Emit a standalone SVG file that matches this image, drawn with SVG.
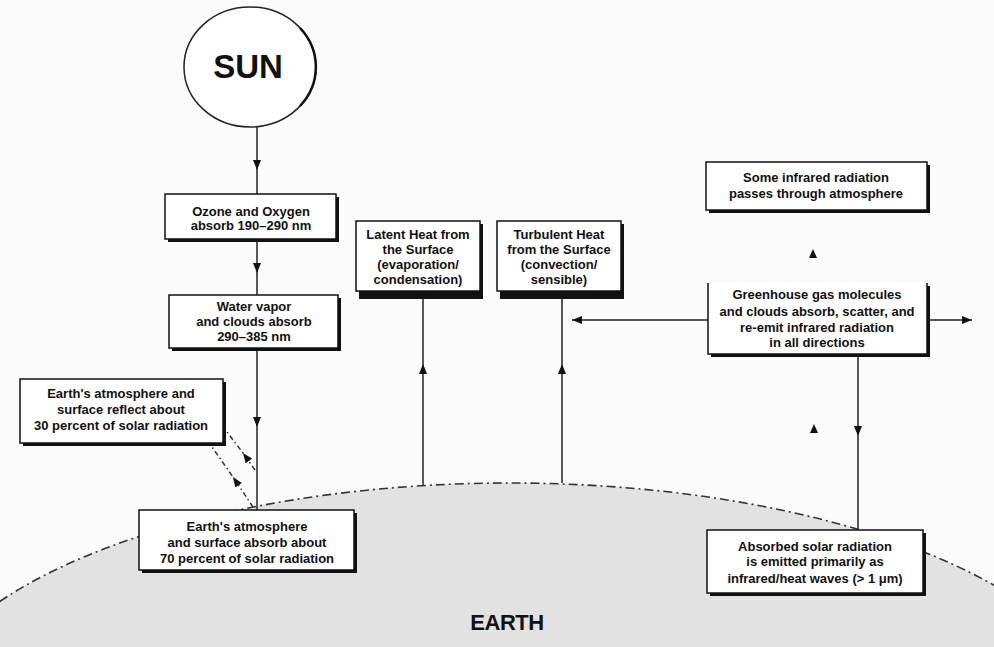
<svg xmlns="http://www.w3.org/2000/svg" width="994" height="647" viewBox="0 0 994 647">
<defs>
<style>
.box{fill:#fff;stroke:#111;stroke-width:1.5}
.shd{fill:#111}
.t{font-family:"Liberation Sans",Arial,sans-serif;font-size:13px;font-weight:bold;fill:#111;text-anchor:middle}
.ln{fill:none;stroke:#222;stroke-width:1.5}
.dl{fill:none;stroke:#333;stroke-width:1.5;stroke-dasharray:5 3 1.5 3}
</style>
<marker id="ah" viewBox="0 0 10 8" refX="10" refY="4" markerWidth="10" markerHeight="8" markerUnits="userSpaceOnUse" orient="auto">
<path d="M0,0 L10,4 L0,8 Z" fill="#111"/>
</marker>
<path id="tri" d="M0,0 L4,9 L-4,9 Z" fill="#111"/>
</defs>
<rect width="994" height="647" fill="#fbfbfb"/>

<g id="earth">
<ellipse cx="510" cy="733" rx="600" ry="250" fill="#e2e2e2" stroke="#333" stroke-width="1.6" stroke-dasharray="9 4 2 4"/>
<text x="507" y="630" style="font-family:'Liberation Sans',Arial,sans-serif;font-size:22px;font-weight:bold;fill:#111;text-anchor:middle;letter-spacing:-0.5px">EARTH</text>
</g>

<g id="connectors">
<polyline class="ln" points="257,127 257,170 257,194" marker-mid="url(#ah)"/>
<polyline class="ln" points="257,239 257,273 257,295" marker-mid="url(#ah)"/>
<polyline class="ln" points="257,348 257,427 257,510" marker-mid="url(#ah)"/>
<polyline class="ln" points="423,485 423,364 423,299" marker-mid="url(#ah)"/>
<polyline class="ln" points="562,483 562,364 562,299" marker-mid="url(#ah)"/>
<line class="ln" x1="708" y1="320" x2="572" y2="320" marker-end="url(#ah)"/>
<line class="ln" x1="927" y1="320" x2="972" y2="320" marker-end="url(#ah)"/>
<polyline class="ln" points="858,357 858,436 858,530" marker-mid="url(#ah)"/>
<polyline class="dl" points="255,470 243,453 227,432" marker-mid="url(#ah)"/>
<polyline class="dl" points="253,507 233,477 212,447" marker-mid="url(#ah)"/>
<use href="#tri" x="813" y="249"/>
<use href="#tri" x="814" y="424"/>
</g>

<g id="sun">
<ellipse cx="250" cy="67" rx="66" ry="60" fill="#fff" stroke="#222" stroke-width="1.5"/>
<path d="M 300,28 A 66,60 0 0 1 300,106" fill="none" stroke="#111" stroke-width="2.5"/>
<text x="248" y="78" style="font-family:'Liberation Sans',Arial,sans-serif;font-size:33px;font-weight:bold;fill:#111;text-anchor:middle">SUN</text>
</g>

<g id="ozone">
<rect class="shd" x="168" y="197" width="171" height="45"/>
<rect class="box" x="165" y="194" width="171" height="45"/>
<text class="t" x="251" y="216">Ozone and Oxygen</text>
<text class="t" x="251" y="230">absorb 190–290 nm</text>
</g>

<g id="water">
<rect class="shd" x="172" y="298" width="169" height="53"/>
<rect class="box" x="169" y="295" width="169" height="53"/>
<text class="t" x="254" y="311">Water vapor</text>
<text class="t" x="254" y="326">and clouds absorb</text>
<text class="t" x="254" y="341">290–385 nm</text>
</g>

<g id="reflect">
<rect class="shd" x="23" y="382" width="203" height="64"/>
<rect class="box" x="20" y="379" width="203" height="64"/>
<text class="t" x="121" y="398">Earth's atmosphere and</text>
<text class="t" x="121" y="414">surface reflect about</text>
<text class="t" x="121" y="430">30 percent of solar radiation</text>
</g>

<g id="absorb70">
<rect class="shd" x="142" y="513" width="215" height="60"/>
<rect class="box" x="139" y="510" width="215" height="60"/>
<text class="t" x="247" y="531">Earth's atmosphere</text>
<text class="t" x="247" y="547">and surface absorb about</text>
<text class="t" x="247" y="563">70 percent of solar radiation</text>
</g>

<g id="latent">
<rect class="shd" x="359" y="224" width="124" height="75"/>
<rect class="box" x="356" y="221" width="124" height="70"/>
<text class="t" x="418" y="239">Latent Heat from</text>
<text class="t" x="418" y="254">the Surface</text>
<text class="t" x="418" y="269">(evaporation/</text>
<text class="t" x="418" y="284">condensation)</text>
</g>

<g id="turbulent">
<rect class="shd" x="500" y="224" width="124" height="75"/>
<rect class="box" x="497" y="221" width="124" height="70"/>
<text class="t" x="559" y="239">Turbulent Heat</text>
<text class="t" x="559" y="254">from the Surface</text>
<text class="t" x="559" y="269">(convection/</text>
<text class="t" x="559" y="284">sensible)</text>
</g>

<g id="passes">
<rect class="shd" x="709" y="165" width="221" height="48"/>
<rect class="box" x="706" y="162" width="221" height="48"/>
<text class="t" x="816" y="182">Some infrared radiation</text>
<text class="t" x="816" y="198">passes through atmosphere</text>
</g>

<g id="greenhouse">
<path class="shd" d="M711,286 H930 V357 H711 Z" stroke="none"/>
<rect x="708" y="283" width="219" height="71" fill="#fff"/>
<path d="M708,283 V354 H927 V283" fill="none" stroke="#111" stroke-width="1.5"/>
<text class="t" x="817" y="299">Greenhouse gas molecules</text>
<text class="t" x="817" y="316">and clouds absorb, scatter, and</text>
<text class="t" x="817" y="332">re-emit infrared radiation</text>
<text class="t" x="817" y="347">in all directions</text>
</g>

<g id="emitted">
<rect class="shd" x="710" y="533" width="216" height="63"/>
<rect class="box" x="707" y="530" width="216" height="63"/>
<text class="t" x="815" y="551">Absorbed solar radiation</text>
<text class="t" x="815" y="566">is emitted primarily as</text>
<text class="t" x="815" y="583">infrared/heat waves (&gt; 1 μm)</text>
</g>
</svg>
